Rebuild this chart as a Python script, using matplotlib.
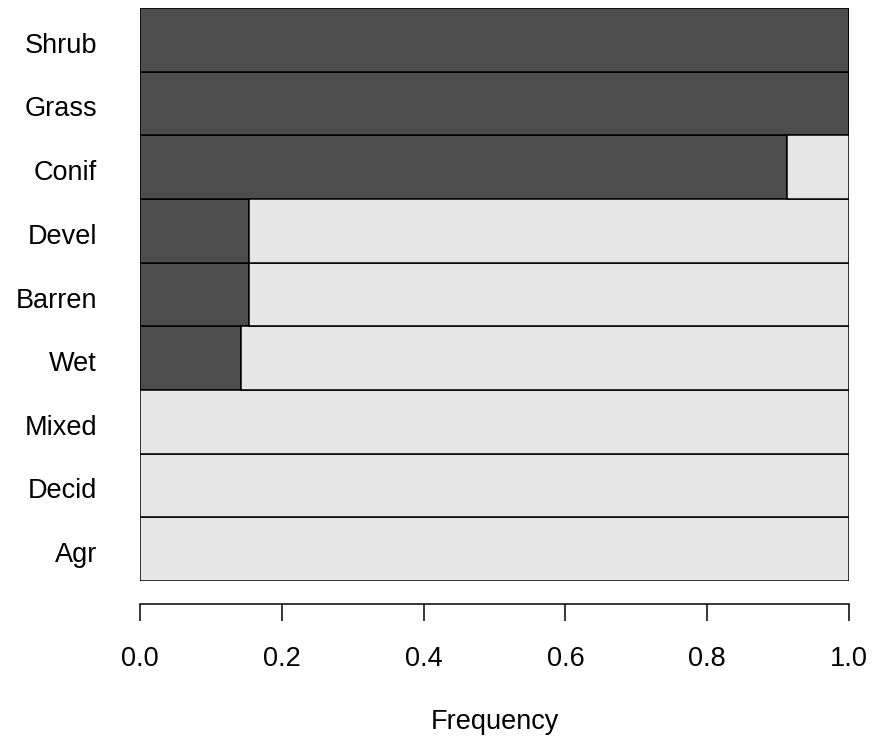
import numpy as np
import matplotlib
matplotlib.use("Agg")
import matplotlib.pyplot as plt
import matplotlib.transforms as mtransforms

# land cover classes, bottom to top
categories = ["Agr", "Decid", "Mixed", "Wet", "Barren", "Devel", "Conif", "Grass", "Shrub"]
# proportion in the dark class
dark_freq = [0.0, 0.0, 0.0, 0.143, 0.154, 0.154, 0.913, 1.0, 1.0]
light_freq = [1 - v for v in dark_freq]

plt.rcParams['font.family'] = ['Liberation Sans', 'DejaVu Sans']
fs = 19.5

W, H = 873, 742
fig = plt.figure(figsize=(W / 100, H / 100), dpi=100)
ax = fig.add_axes([140 / W, (H - 581) / H, 709 / W, 573 / H])

y = np.arange(len(categories))
ax.barh(y, dark_freq, height=1, color="#4d4d4d", edgecolor="black", linewidth=1.1)
ax.barh(y, light_freq, left=dark_freq, height=1, color="#e6e6e6", edgecolor="black", linewidth=1.1)

ax.set_xlim(0, 1)
ax.set_ylim(-0.5, len(categories) - 0.5)
ax.set_yticks(y)
ax.set_yticklabels(categories, fontsize=fs)
ax.tick_params(axis="y", length=0, pad=31)
# nudge the names down a little, as in the original
shift = mtransforms.ScaledTranslation(0, -0.03, fig.dpi_scale_trans)
for lbl in ax.get_yticklabels():
    lbl.set_transform(lbl.get_transform() + shift)

for s in ["top", "right", "left"]:
    ax.spines[s].set_visible(False)
ax.spines["bottom"].set_position(("outward", 16.6))
ax.spines["bottom"].set_linewidth(1.1)
ax.set_xticks([0, 0.2, 0.4, 0.6, 0.8, 1.0])
ax.set_xticklabels(["0.0", "0.2", "0.4", "0.6", "0.8", "1.0"], fontsize=fs)
ax.tick_params(axis="x", length=12.2, width=1.1, pad=18)

fig.text((140 + 849) / 2 / W, (H - 722) / H, "Frequency", ha="center", va="center", fontsize=fs)

fig.savefig("out.png", dpi=100)
